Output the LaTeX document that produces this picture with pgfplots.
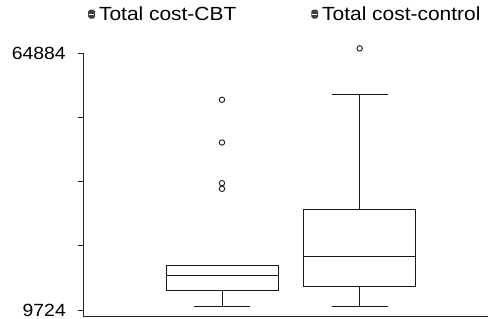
\documentclass[border=0pt]{standalone}
\usepackage{fontspec}
\setmainfont{Liberation Sans}[FakeStretch=1.1]
\usepackage{pgfplots}
\pgfplotsset{compat=1.18}
\begin{document}
\begin{tikzpicture}
\begin{axis}[
  scale only axis,
  width=405bp, height=263bp,
  xmin=-0.0094, xmax=2.932,
  ymin=8435, ymax=64884,
  axis x line=bottom, axis y line=left,
  axis line style={-, line width=0.9bp, black!85},
  xtick=\empty,
  scaled y ticks=false,
  ytick={9724,23514,37304,51094,64884},
  yticklabels={9724,,,,64884},
  tick align=outside,
  major tick length=5bp,
  tick style={line width=0.9bp, black!85},
  yticklabel style={font=\fontsize{17.7}{17.7}\selectfont, inner sep=1bp, xshift=-11bp},
  clip=false,
  legend columns=2,
  legend style={at={(axis description cs:0.0123,1.148)}, anchor=west, draw=none, inner sep=0pt,
    font=\fontsize{19.1}{19.1}\selectfont,
    nodes={inner sep=0pt, anchor=west},
    /tikz/every odd column/.append style={column sep=4bp},
    /tikz/every even column/.append style={column sep=75bp}},
  legend image code/.code={
    \fill[black!75, rounded corners=1.5bp] (-3bp,-4bp) rectangle (3bp,4bp);
    \draw[white, line width=0.6bp] (-2.5bp,0) -- (2.5bp,0);
  },
  every axis plot/.append style={black!90, line width=0.9bp, line join=miter},
]
\addlegendimage{black}
\addlegendimage{black}
% ---- Total cost-CBT (position 1)
\addplot[forget plot] coordinates {(0.5935,13872) (1.4065,13872) (1.4065,19180) (0.5935,19180) (0.5935,13872) (1.4065,13872)};
\addplot[forget plot] coordinates {(0.5935,17095) (1.4065,17095)};
\addplot[forget plot] coordinates {(1,13872) (1,10433)};
\addplot[forget plot] coordinates {(0.7965,10433) (1.2035,10433)};
\addplot[forget plot, only marks, mark=o, mark size=2.7bp, mark options={line width=0.9bp}]
  coordinates {(1,54853) (1,45677) (1,36952) (1,35727)};
% ---- Total cost-control (position 2)
\addplot[forget plot] coordinates {(1.5935,14817) (2.4065,14817) (2.4065,31214) (1.5935,31214) (1.5935,14817) (2.4065,14817)};
\addplot[forget plot] coordinates {(1.5935,21178) (2.4065,21178)};
\addplot[forget plot] coordinates {(2,14817) (2,10412)};
\addplot[forget plot] coordinates {(1.7965,10412) (2.2035,10412)};
\addplot[forget plot] coordinates {(2,31214) (2,56078)};
\addplot[forget plot] coordinates {(1.7965,56078) (2.2035,56078)};
\addplot[forget plot, only marks, mark=o, mark size=2.7bp, mark options={line width=0.9bp}]
  coordinates {(2,65877)};
\legend{Total cost-CBT, Total cost-control}
\coordinate (O) at (rel axis cs:0,0);
\end{axis}
\pgfresetboundingbox
\path (O) ++(-83bp,-3bp) rectangle ++(488bp,319bp);
\end{tikzpicture}
\end{document}
